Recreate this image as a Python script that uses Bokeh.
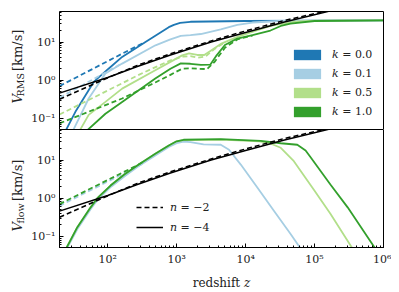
import math
from bokeh.plotting import figure
from bokeh.layouts import column, row
from bokeh.models import Range1d, Legend, LegendItem, LogAxis, FixedTicker
from bokeh.core.properties import value
from bokeh.embed import file_html
from bokeh.resources import INLINE

# ---------------- data ----------------
# top panel: V_RMS [km/s] vs redshift z
k0_z = [23.4, 34.0, 62.7, 100, 162, 353, 769, 912, 1122, 1585, 10000, 1e6]
k0_v = [0.040, 0.148, 0.90, 1.91, 4.07, 10.0, 24.5, 28.2, 31.6, 33.9, 35.5, 36.7]
k0d_z = [20, 202, 331]
k0d_v = [0.70, 6.07, 9.5]

k01_z = [30.9, 53.0, 92.7, 162, 493, 813, 1148, 1585, 2239, 4365, 7586, 12589, 31623, 1e6]
k01_v = [0.045, 0.331, 1.50, 2.72, 8.20, 11.7, 14.5, 15.1, 16.2, 21.4, 28.2, 32.4, 35.5, 36.7]
k01d_z = [20, 158]
k01d_v = [0.347, 2.69]

k05_z = [39.8, 53.0, 92.7, 162, 490, 813, 1202, 1514, 1995, 2512, 3162, 4365, 7943, 22909, 50119, 1e5, 1e6]
k05_v = [0.050, 0.123, 0.27, 0.60, 1.82, 3.02, 4.47, 5.01, 4.57, 4.57, 6.03, 8.91, 14.1, 26.3, 33.9, 36.3, 36.7]
k05d_z = [20, 92.7, 282, 813, 1259, 1585, 1995, 2630, 3548, 5012]
k05d_v = [0.126, 0.50, 1.38, 3.31, 4.17, 4.27, 3.89, 4.17, 6.61, 9.77]

k1_z = [50.1, 92.7, 162, 490, 813, 1148, 1585, 2239, 3090, 3802, 5012, 7586, 12589, 22909, 32359, 44668, 1e5, 1e6]
k1_v = [0.048, 0.132, 0.269, 1.10, 2.0, 2.75, 2.69, 2.51, 2.57, 4.47, 8.32, 12.3, 15.1, 20.0, 26.3, 30.2, 35.5, 36.7]
k1d_z = [20, 162, 490, 813, 1202, 1585, 2754, 3548, 5012, 7586, 12589]
k1d_v = [0.074, 0.331, 0.871, 1.38, 2.0, 2.04, 1.95, 3.02, 7.08, 11.7, 14.8]

# reference power laws (both panels)
n4_z = [20, 100, 269, 813, 3162, 10000, 35481, 165959]
n4_v = [0.457, 1.17, 2.29, 4.57, 10.0, 17.8, 33.1, 64.6]
n2_z = [20, 112, 269, 813, 3162, 10000, 35481, 147911]
n2_v = [0.316, 1.26, 2.45, 4.90, 10.7, 19.5, 36.3, 64.6]

# bottom panel: V_flow [km/s] vs redshift z
f1_z = [24.5, 36.3, 56.6, 70.8, 110, 174, 282, 490, 769, 1000, 1259, 4365, 16596, 32359, 56234, 74131, 87096, 169824, 301995, 758578]
f1_v = [0.045, 0.174, 0.575, 1.0, 2.14, 4.17, 7.59, 14.5, 24.0, 30.9, 33.9, 35.1, 31.6, 27.5, 25.1, 17.8, 12.0, 2.29, 0.575, 0.048]
f05_z = [24.5, 36.3, 56.6, 70.8, 110, 174, 282, 490, 769, 1000, 1259, 4365, 15849, 22387, 32359, 50119, 97724, 169824, 354813]
f05_v = [0.045, 0.174, 0.575, 1.0, 2.14, 4.17, 7.59, 14.5, 24.0, 30.9, 33.1, 34.3, 30.9, 27.5, 20.9, 9.33, 1.66, 0.389, 0.048]
f01_z = [25.1, 37.2, 57.5, 72.4, 112, 178, 282, 490, 769, 1000, 1259, 1585, 2455, 4365, 5754, 8511, 14791, 25704, 44668, 66069]
f01_v = [0.045, 0.166, 0.537, 0.933, 2.0, 3.80, 6.92, 13.2, 21.9, 27.5, 30.2, 29.5, 25.7, 25.1, 18.6, 7.59, 1.91, 0.468, 0.117, 0.042]
f1d_z = [20, 251, 316]
f1d_v = [0.70, 6.86, 8.6]
f01d_z = [20, 251, 316]
f01d_v = [0.63, 6.3, 7.9]

k_labels = ["𝑘 = 0.0", "𝑘 = 0.1", "𝑘 = 0.5", "𝑘 = 1.0"]
n_labels = ["𝑛 = −2", "𝑛 = −4"]
x_ticks = {100: "10²", 1000: "10³", 10000: "10⁴", 100000: "10⁵", 1000000: "10⁶"}
y_ticks = {0.1: "10⁻¹", 1: "10⁰", 10: "10¹"}
# y-axis titles: main symbol, subscript, unit
ylab_top = ["𝑉", "RMS", "[km/s]"]
ylab_bot = ["𝑉", "flow", "[km/s]"]

C_K0, C_K01, C_K05, C_K1 = "#1f78b4", "#a6cee3", "#b2df8a", "#33a02c"
FONT = "DejaVu Serif"
DASH = "5 3"
TXT = "#222222"
LABW = 27  # width of the strip holding the vertical axis titles


def style(p, show_x):
    p.xgrid.visible = False
    p.ygrid.visible = False
    p.outline_line_color = "black"
    p.outline_line_width = 1
    p.background_fill_color = "white"
    for ax in (p.xaxis, p.yaxis):
        ax.axis_line_color = "black"
        ax.major_tick_in = 4
        ax.major_tick_out = 0
        ax.minor_tick_in = 2
        ax.minor_tick_out = 0
        ax.major_tick_line_color = "black"
        ax.minor_tick_line_color = "black"
        ax.major_label_text_font = FONT
        ax.major_label_text_font_size = "11px"
        ax.major_label_text_color = TXT
    p.yaxis.major_label_overrides = y_ticks
    p.yaxis.major_label_standoff = 4
    p.xaxis.major_label_overrides = x_ticks
    if not show_x:
        p.xaxis.visible = False


def frame_edge(p, place):
    # a bare axis line (no ticks, no labels) drawn along one edge of the frame
    ax = LogAxis(ticker=FixedTicker(ticks=[]), major_tick_in=0, major_tick_out=0,
                 minor_tick_in=0, minor_tick_out=0, major_label_standoff=0,
                 major_label_text_font_size="0px", axis_line_color="black")
    p.add_layout(ax, place)


xr = Range1d(20, 1e6)

top = figure(width=391 - LABW, height=129, x_axis_type="log", y_axis_type="log",
             x_range=xr, y_range=Range1d(0.051, 63),
             output_backend="svg", toolbar_location=None,
             min_border_left=59 - LABW, min_border_right=8, min_border_top=11, min_border_bottom=0)
style(top, False)
top.outline_line_color = None
frame_edge(top, "above")
frame_edge(top, "right")

lw = 1.8
top.line(k0_z, k0_v, color=C_K0, line_width=lw)
top.line(k0d_z, k0d_v, color=C_K0, line_width=lw, line_dash=DASH)
top.line(k01_z, k01_v, color=C_K01, line_width=lw)
top.line(k01d_z, k01d_v, color=C_K01, line_width=lw, line_dash=DASH)
top.line(k05_z, k05_v, color=C_K05, line_width=lw)
top.line(k05d_z, k05d_v, color=C_K05, line_width=lw, line_dash=DASH)
top.line(k1_z, k1_v, color=C_K1, line_width=lw)
top.line(k1d_z, k1d_v, color=C_K1, line_width=lw, line_dash=DASH)
top.line(n4_z, n4_v, color="black", line_width=1.5)
top.line(n2_z, n2_v, color="black", line_width=1.5, line_dash=DASH)

# legend proxies: a single patch far outside the visible ranges
patch_renderers = []
for c in (C_K0, C_K01, C_K05, C_K1):
    patch_renderers.append(top.quad(left=[1.0], right=[2.0], top=[1e-8], bottom=[1e-9],
                                    fill_color=c, line_color=None))
leg_top = Legend(items=[LegendItem(label=l, renderers=[r]) for l, r in zip(k_labels, patch_renderers)],
                 location=(231, 11.5), glyph_width=34, glyph_height=13, label_height=13,
                 spacing=6, padding=0, margin=0, label_standoff=8,
                 label_text_font=FONT, label_text_font_size="11px", label_text_color=TXT,
                 border_line_color=None, background_fill_alpha=0)
top.add_layout(leg_top)

bot = figure(width=391 - LABW, height=163, x_axis_type="log", y_axis_type="log",
             x_range=xr, y_range=Range1d(0.051, 63),
             output_backend="svg", toolbar_location=None,
             min_border_left=59 - LABW, min_border_right=8, min_border_top=0, min_border_bottom=44)
style(bot, True)
bot.xaxis.axis_label = "redshift 𝑧"
bot.xaxis.axis_label_text_font = FONT
bot.xaxis.axis_label_text_font_style = "normal"
bot.xaxis.axis_label_text_font_size = "12px"
bot.xaxis.axis_label_text_color = TXT
bot.xaxis.axis_label_standoff = 7

bot.line(f01_z, f01_v, color=C_K01, line_width=lw)
bot.line(f01d_z, f01d_v, color=C_K01, line_width=lw, line_dash=DASH)
bot.line(f05_z, f05_v, color=C_K05, line_width=lw)
bot.line(f1_z, f1_v, color=C_K1, line_width=lw)
bot.line(f1d_z, f1d_v, color=C_K1, line_width=lw, line_dash=DASH)
r_n4 = bot.line(n4_z, n4_v, color="black", line_width=1.5)
r_n2 = bot.line(n2_z, n2_v, color="black", line_width=1.5, line_dash=DASH)

leg_bot = Legend(items=[LegendItem(label=n_labels[0], renderers=[r_n2]),
                        LegendItem(label=n_labels[1], renderers=[r_n4])],
                 location=(77, 13.4), glyph_width=27, glyph_height=12, label_height=12,
                 spacing=7, padding=0, margin=0, label_standoff=7,
                 label_text_font=FONT, label_text_font_size="11px", label_text_color=TXT,
                 border_line_color=None, background_fill_alpha=0)
bot.add_layout(leg_bot)

# strip on the left for the vertical axis titles (screen-pixel coordinates, y downward)
lab = figure(width=LABW, height=292, x_range=Range1d(0, LABW), y_range=Range1d(292, 0),
             output_backend="svg", toolbar_location=None,
             min_border_left=0, min_border_right=0, min_border_top=0, min_border_bottom=0)
lab.axis.visible = False
lab.xgrid.visible = False
lab.ygrid.visible = False
lab.outline_line_color = None


def vtitle(parts, xs, ys, sizes):
    for t, x, y, s in zip(parts, xs, ys, sizes):
        lab.text(x=[x], y=[y], text=[t], angle=math.pi / 2, text_font=value(FONT),
                 text_font_size=s, text_align="left", text_baseline="alphabetic",
                 text_color=TXT)


vtitle(ylab_top, [17, 19.5, 17], [103, 96, 70.5], ["13px", "9.5px", "13px"])
vtitle(ylab_bot, [17, 19.5, 17], [231, 223, 200.5], ["13px", "9.5px", "13px"])

layout = row(lab, column(top, bot, spacing=0), spacing=0)
open("out.html", "w").write(file_html(layout, INLINE))
